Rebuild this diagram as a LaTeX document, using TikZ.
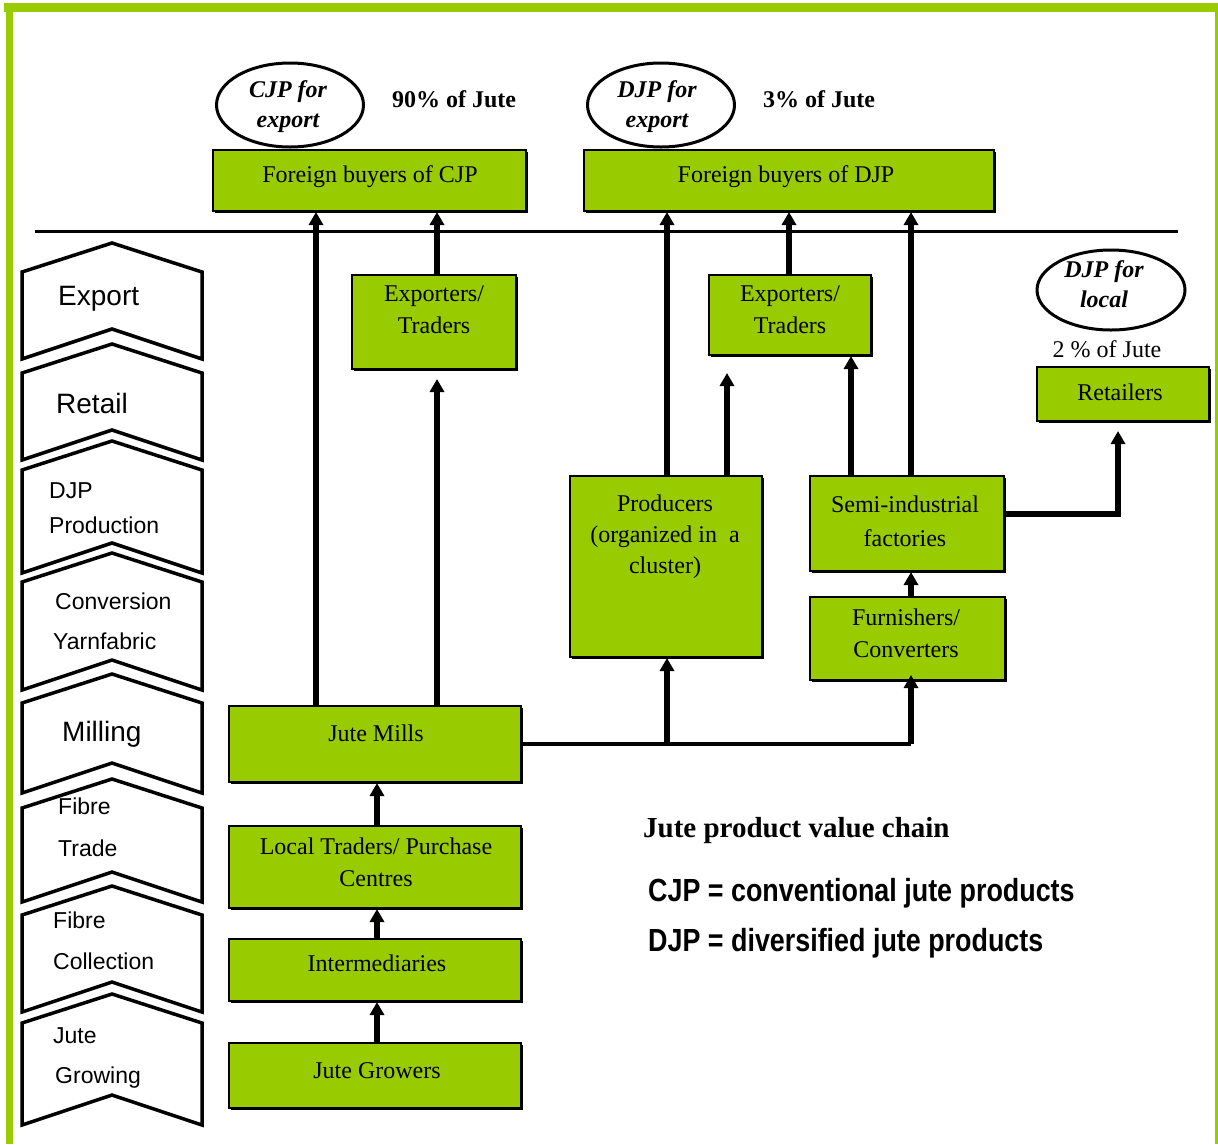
\documentclass[tikz,border=0pt]{standalone}
\usepackage{fontspec}
\usepackage{graphicx}
\setmainfont{Liberation Serif}
\newfontfamily\chevfont{Liberation Sans}
\usetikzlibrary{arrows.meta,fit,shadows,shapes.geometric}
\definecolor{jute}{RGB}{153,204,0}

% chevron-shaped stage marker: top corners at y=#1, bottom corners at y=#2
\newcommand\chevronshape[2]{%
  \draw[chev] (22,#1) -- (112,#1-29) -- (202,#1) -- (202,#2) -- (112,#2-30) -- (22,#2) -- cycle;}

\begin{document}
\begin{tikzpicture}[x=1pt,y=-1pt,
  jbox/.style={draw=black, line width=2pt, fill=jute, inner sep=0pt, rectangle,
    drop shadow={shadow xshift=1.6pt, shadow yshift=-1.6pt, fill=black, opacity=1}},
  btxt/.style={inner sep=0pt, font=\fontsize{24}{24}\selectfont, text height=16pt, text depth=0pt},
  bmulti/.style={inner sep=0pt, font=\fontsize{24}{#1}\selectfont, align=center, anchor=north},
  bmulti/.default=32,
  ell/.style={ellipse, draw=black, line width=3pt, fill=white, inner sep=0pt},
  etxt/.style={inner sep=0pt, font=\bfseries\itshape\fontsize{24}{30}\selectfont, align=center, anchor=north},
  pct/.style={inner sep=0pt, font=\bfseries\fontsize{24}{24}\selectfont, text height=16pt, text depth=0pt},
  chev/.style={draw=black, line width=3.5pt, line join=miter, fill=white},
  ctxt/.style={inner sep=0pt, anchor=west, font=\chevfont\fontsize{23}{23}\selectfont, text height=16.5pt, text depth=0pt},
  cbig/.style={inner sep=0pt, anchor=west, font=\chevfont\fontsize{28}{28}\selectfont, text height=20pt, text depth=0pt},
  arr/.style={line width=5.5pt, -{Triangle[length=13pt,width=14pt]}},
  link/.style={line width=4.5pt},
  legend/.style={inner sep=0pt, anchor=west}
]
\useasboundingbox (0,0) rectangle (1218,1144);
\fill[white] (0,0) rectangle (1218,1144);

% green page frame
\fill[jute] (4,3) rectangle (1218,12);
\fill[jute] (6,3) rectangle (13,1144);
\fill[jute] (1215,3) rectangle (1217.5,1144);

% divider between export market and domestic chain
\coordinate (divL) at (35,231);
\coordinate (divR) at (1178,231);
\draw[line width=3pt] (divL) -- (divR);

% stage markers on the left
\chevronshape{272}{359}
\chevronshape{373}{460}
\chevronshape{470}{573}
\chevronshape{582}{690}
\chevronshape{703}{793}
\chevronshape{808}{902}
\chevronshape{915}{1012}
\chevronshape{1023}{1125}

\node[cbig] (lab-export) at (58,295) {Export};
\node[cbig] (lab-retail) at (56,403) {Retail};
\node[ctxt] (lab-djp) at (49,490) {DJP};
\node[ctxt] (lab-production) at (49,525) {Production};
\node[ctxt] (lab-conversion) at (55,601) {Conversion};
\node[ctxt] (lab-yarn) at (53,641) {Yarnfabric};
\node[cbig] (lab-milling) at (62,731) {Milling};
\node[ctxt] (lab-fibre1) at (58,806) {Fibre};
\node[ctxt] (lab-trade) at (58,848) {Trade};
\node[ctxt] (lab-fibre2) at (53,920) {Fibre};
\node[ctxt] (lab-collection) at (53,961) {Collection};
\node[ctxt] (lab-jute) at (53,1035) {Jute};
\node[ctxt] (lab-growing) at (55,1075) {Growing};

% market tags
\node[ell, minimum width=147pt, minimum height=84pt] (ecjp) at (290,105) {};
\node[etxt] (ecjp-t) at (288,80) {CJP for\\export};
\node[ell, minimum width=147pt, minimum height=84pt] (edjp) at (661,105) {};
\node[etxt] (edjp-t) at (657,80) {DJP for\\export};
\node[ell, minimum width=148pt, minimum height=80pt] (eloc) at (1111,290) {};
\node[etxt] (eloc-t) at (1104,260) {DJP for\\local};

\node[pct] (p90) at (454,99) {90\% of Jute};
\node[pct] (p3) at (819,99) {3\% of Jute};
\node[btxt] (p2) at (1107,349) {2 \% of Jute};

% actors
\node[jbox, fit={(213,150) (526,211)}] (fcjp) {};
\node[jbox, fit={(584,150) (994,211)}] (fdjp) {};
\node[jbox, fit={(352,275) (516,369)}] (exp1) {};
\node[jbox, fit={(709,275) (871,355)}] (exp2) {};
\node[jbox, fit={(1037,367) (1209,421)}] (ret) {};
\node[jbox, fit={(570,476) (762,657)}] (prod) {};
\node[jbox, fit={(810,476) (1004,571)}] (semi) {};
\node[jbox, fit={(810,597) (1005,680)}] (furn) {};
\node[jbox, fit={(229,706) (521,782)}] (jm) {};
\node[jbox, fit={(229,826) (521,908)}] (lt) {};
\node[jbox, fit={(229,939) (521,1001)}] (im) {};
\node[jbox, fit={(229,1043) (521,1108)}] (jg) {};

\node[btxt] (fcjp-t) at (370,174) {Foreign buyers of CJP};
\node[btxt] (fdjp-t) at (786,174) {Foreign buyers of DJP};
\node[bmulti] (exp1-t) at (434,285) {Exporters/\\Traders};
\node[bmulti] (exp2-t) at (790,285) {Exporters/\\Traders};
\node[btxt] (ret-t) at (1120,392) {Retailers};
\node[bmulti=31] (prod-t) at (665,495) {Producers\\(organized in~ a\\cluster)};
\node[bmulti=34] (semi-t) at (905,496) {Semi-industrial\\factories};
\node[bmulti] (furn-t) at (906,609) {Furnishers/\\Converters};
\node[btxt] (jm-t) at (376,733) {Jute Mills};
\node[bmulti] (lt-t) at (376,838) {Local Traders/ Purchase\\Centres};
\node[btxt] (im-t) at (377,963) {Intermediaries};
\node[btxt] (jg-t) at (377,1070) {Jute Growers};

% connector columns
\coordinate (x316) at (316,0);
\coordinate (x377) at (377,0);
\coordinate (x437) at (437,0);
\coordinate (x667) at (667,0);
\coordinate (x727) at (727,0);
\coordinate (x789) at (789,0);
\coordinate (x851) at (851,0);
\coordinate (x911) at (911,0);
\coordinate (x1118) at (1118,0);

% flows
\draw[arr] (jg.north -| x377) -- (im.south -| x377);
\draw[arr] (im.north -| x377) -- (lt.south -| x377);
\draw[arr] (lt.north -| x377) -- (jm.south -| x377);
\draw[arr] (jm.north -| x316) -- (fcjp.south -| x316);
\draw[arr, shorten >=9pt] (jm.north -| x437) -- (exp1.south -| x437);
\draw[arr] (exp1.north -| x437) -- (fcjp.south -| x437);
\draw[link] (jm.east) -- (jm.east -| x911);
\draw[arr] (jm.east -| x667) -- (prod.south -| x667);
\draw[arr, shorten >=-6pt] (jm.east -| x911) -- (furn.south -| x911);
\draw[arr] (prod.north -| x667) -- (fdjp.south -| x667);
\draw[arr, shorten >=17pt] (prod.north -| x727) -- (exp2.south -| x727);
\draw[arr] (exp2.north -| x789) -- (fdjp.south -| x789);
\draw[arr] (semi.north -| x851) -- (exp2.south -| x851);
\draw[arr] (semi.north -| x911) -- (fdjp.south -| x911);
\draw[arr] (furn.north -| x911) -- (semi.south -| x911);
\draw[arr, line width=6pt, shorten >=9pt] ([yshift=10pt]semi.east) -| (ret.south -| x1118);

% legend
\node[legend, font=\bfseries\fontsize{29}{29}\selectfont, text height=19.5pt, text depth=0pt] (leg-title) at (643,828) {Jute product value chain};
\node[legend, font=\chevfont\bfseries\fontsize{32}{32}\selectfont, text height=23pt, text depth=0pt] (leg-cjp) at (648,890) {\scalebox{0.84}[1]{CJP = conventional jute products}};
\node[legend, font=\chevfont\bfseries\fontsize{32}{32}\selectfont, text height=23pt, text depth=0pt] (leg-djp) at (648,940) {\scalebox{0.84}[1]{DJP = diversified jute products}};
\end{tikzpicture}
\end{document}
